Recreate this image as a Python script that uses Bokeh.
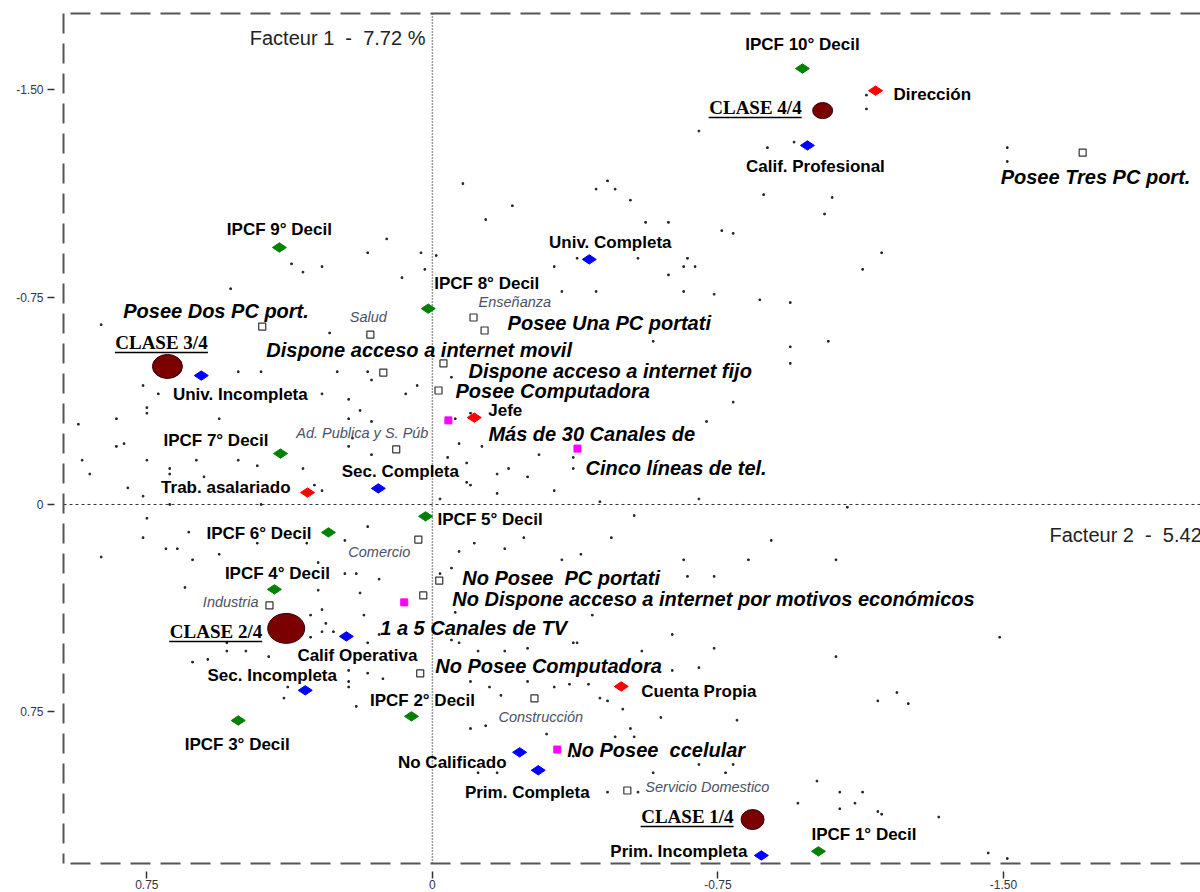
from bokeh.plotting import figure
from bokeh.models import Range1d, LinearAxis, FixedTicker, CustomJSTickFormatter, Span, ColumnDataSource
from bokeh.core.properties import value
from bokeh.embed import file_html
from bokeh.resources import INLINE
import math

# ---------------- data (factor coordinates, axes are reversed) ----------------
X_LEFT, X_RIGHT = 0.969, -2.0175
Y_BOTTOM, Y_TOP = 1.298, -1.775
axis_ticks = [-1.5, -0.75, 0, 0.75]

# IPCF deciles (green)
ipcf_labels = ["IPCF 10° Decil", "IPCF 9° Decil", "IPCF 8° Decil", "IPCF 7° Decil", "IPCF 6° Decil",
               "IPCF 5° Decil", "IPCF 4° Decil", "IPCF 3° Decil", "IPCF 2° Decil", "IPCF 1° Decil"]
ipcf_x = [-0.972, 0.402, 0.011, 0.399, 0.273, 0.018, 0.415, 0.510, 0.055, -1.014]
ipcf_y = [-1.576, -0.929, -0.708, -0.184, 0.101, 0.043, 0.307, 0.781, 0.766, 1.254]

# Education / qualification (blue)
edu_labels = ["Calif. Profesional", "Univ. Completa", "Univ. Incompleta", "Sec. Completa", "Calif Operativa",
              "Sec. Incompleta", "No Calificado", "Prim. Completa", "Prim. Incompleta"]
edu_x = [-0.985, -0.412, 0.607, 0.142, 0.226, 0.334, -0.229, -0.278, -0.864]
edu_y = [-1.298, -0.886, -0.466, -0.058, 0.477, 0.672, 0.896, 0.961, 1.269]

# Occupational category (red)
occ_labels = ["Dirección", "Jefe", "Trab. asalariado", "Cuenta Propia"]
occ_x = [-1.164, -0.110, 0.328, -0.496]
occ_y = [-1.496, -0.314, -0.043, 0.658]

# Magenta modalities
mag_labels = ["Más de 30 Canales de", "Cinco líneas de tel.", "1 a 5 Canales de TV", "No Posee \u00a0ccelular"]
mag_x = [-0.042, -0.381, 0.074, -0.328]
mag_y = [-0.304, -0.202, 0.354, 0.886]

# Open-square modalities (bold italic labels)
mod_labels = ["Posee Tres PC port.", "Posee Dos PC port.", "Posee Una PC portati",
              "Dispone acceso a internet movil", "Dispone acceso a internet fijo", "Posee Computadora",
              "No Posee \u00a0PC portati", "No Dispone acceso a internet por motivos económicos",
              "No Posee Computadora"]
mod_x = [-1.708, 0.447, -0.137, 0.129, -0.029, -0.016, -0.018, 0.024, 0.032]
mod_y = [-1.272, -0.643, -0.629, -0.477, -0.510, -0.412, 0.275, 0.329, 0.611]

# Sector modalities (small grey italic labels)
sec_labels = ["Salud", "Enseñanza", "Ad. Publica y S. Púb", "Comercio", "Industria",
              "Construcción", "Servicio Domestico"]
sec_x = [0.163, -0.108, 0.095, 0.037, 0.428, -0.268, -0.512]
sec_y = [-0.614, -0.676, -0.199, 0.127, 0.365, 0.701, 1.034]

# Classes
cls_labels = ["CLASE 4/4", "CLASE 3/4", "CLASE 2/4", "CLASE 1/4"]
cls_x = [-1.025, 0.696, 0.384, -0.841]
cls_y = [-1.424, -0.499, 0.448, 1.139]

# Axis titles
axis1_title = "Facteur 1 \u00a0-\u00a0 7.72 %"
axis2_title = "Facteur 2 \u00a0-\u00a0 5.42 %"

# Individuals (small dots)
dot_x = [0.12, 0.17, 0.37, 0.29, 0.34, 0.53,
         -0.70, -0.88, -0.95, -0.08, -0.43, -0.46, -0.48, -0.52, -0.21, -0.14, -0.56, -0.62, -0.76, -0.79,
         -0.87, 0.03, -0.01, 0.02, -0.38, -0.54, -0.67, -0.69, -0.66, -0.32, -0.62, -0.66, -0.74, -0.86,
         -0.34, -0.43, 0.08,
         -1.14, -1.14, -1.51, -1.51, -1.05, -1.03, -1.18, -1.13,
         0.87, 0.27, 0.17, 0.25, 0.17, 0.16, 0.45, 0.51, 0.76, 0.72, 0.75, 0.75, 0.22, 0.19, 0.22, 0.16,
         0.21, 0.56, 0.83, 0.93, 0.29, 0.81, 0.83, 0.22, 0.16, 0.92, 0.75, 0.62, 0.51, 0.46, 0.34, 0.90,
         0.69, 0.69, 0.60, 0.80, 0.31, 0.29, 0.76, 0.69, 0.45, 0.75, 0.64, 0.76, 0.70, 0.67, 0.56, 0.46,
         0.33, 0.23, 0.17, 0.87, 0.63, 0.30, 0.23, 0.20, 0.14, 0.65, 0.30, 0.19,
         -0.94, -0.58, -0.94, -0.94, -0.05, 0.04, 0.07, -0.79, -0.72, -0.06, -0.10, -0.07, -0.13, -0.28,
         -0.37, -0.37, -0.04, -0.09, -0.17, -0.20, -0.25, -0.09, -0.10, -0.17, -0.32, -0.02, -0.70, -0.44,
         -0.53, -0.47, -0.89, -0.24, -0.11, -0.19, -0.07, -0.34, -0.39, -0.66, -0.83, -0.67, -0.74, -0.05,
         -0.02,
         -1.04, -1.09, -1.06,
         0.32, 0.29, 0.18, 0.28, 0.29, 0.26, 0.32, 0.17, 0.14, 0.54, 0.49, 0.54, 0.43, 0.63, 0.59, 0.22,
         0.17, 0.13, 0.22, 0.22, 0.38, 0.39, 0.20,
         -0.06, -0.42, -0.63, -0.74, -0.05, -0.07, -0.12, -0.19, -0.25, -0.37, -0.38, -0.55, -0.63, -0.70,
         -0.10, -0.15, -0.18, -0.25, -0.32, -0.36, -0.41, -0.44, -0.46, -0.50, -0.60, -0.80, -0.10, -0.14,
         -0.52, -0.30, -0.48, -0.53, -0.37, -0.12, -0.17, -0.58, -0.70, -0.77, -0.79, -0.46, -0.54, -0.96,
         -1.49, -1.06, -1.22, -1.17, -1.25, -1.01, -1.07, -1.13, -1.11, -1.07, -1.17, -1.18, -1.33, -1.46,
         -1.51]
dot_y = [-0.96, -0.91, -0.87, -0.86, -0.84, -0.78,
         -1.35, -1.29, -1.31, -1.16, -1.14, -1.17, -1.14, -1.10, -1.08, -1.03, -1.02, -1.02, -0.99, -0.98,
         -1.12, -0.91, -0.90, -0.85, -0.89, -0.89, -0.89, -0.86, -0.86, -0.86, -0.83, -0.77, -0.76, -0.74,
         -0.77, -0.77, -0.82,
         -1.48, -1.43, -1.29, -1.24, -1.11, -1.05, -0.91, -0.85,
         -0.65, -0.62, -0.61, -0.48, -0.48, -0.45, -0.48, -0.48, -0.43, -0.40, -0.35, -0.33, -0.38, -0.34,
         -0.31, -0.30, -0.24, -0.31, -0.31, -0.29, -0.40, -0.22, -0.21, -0.21, -0.18, -0.16, -0.16, -0.16,
         -0.16, -0.14, -0.13, -0.11, -0.13, -0.11, -0.10, -0.06, -0.07, -0.05, -0.03, 0.00, 0.00, 0.05,
         0.10, 0.12, 0.16, 0.16, 0.18, 0.14, 0.14, 0.13, 0.08, 0.19, 0.20, 0.21, 0.25, 0.25, 0.27, 0.30,
         0.31, 0.32,
         -0.73, -0.59, -0.57, -0.51, -0.46, -0.43, -0.40, -0.37, -0.30, -0.31, -0.33, -0.22, -0.21, -0.18,
         -0.17, -0.13, -0.17, -0.15, -0.11, -0.13, -0.10, -0.08, -0.07, -0.04, -0.05, -0.02, -0.02, -0.01,
         0.04, 0.12, 0.13, 0.12, 0.14, 0.16, 0.17, 0.20, 0.18, 0.20, 0.20, 0.26, 0.26, 0.23, 0.25,
         -0.59, 0.01, 0.20,
         0.40, 0.38, 0.40, 0.43, 0.46, 0.46, 0.48, 0.50, 0.47, 0.50, 0.53, 0.53, 0.55, 0.57, 0.56, 0.60,
         0.61, 0.63, 0.64, 0.66, 0.66, 0.70, 0.73,
         0.39, 0.40, 0.47, 0.52, 0.49, 0.50, 0.53, 0.53, 0.52, 0.50, 0.50, 0.53, 0.60, 0.59, 0.64, 0.66,
         0.69, 0.64, 0.66, 0.65, 0.65, 0.70, 0.71, 0.74, 0.77, 0.78, 0.81, 0.80, 0.81, 0.83, 0.84, 0.84,
         0.91, 0.97, 0.97, 0.97, 0.94, 0.97, 0.94, 1.04, 1.04, 1.08,
         0.48, 0.55, 0.68, 0.71, 0.72, 1.00, 1.04, 1.04, 1.08, 1.10, 1.11, 1.12, 1.13, 1.26, 1.28]

# ---------------- styles (label offsets in px, alignments, sizes) ----------------
ipcf_dx = [0, 0, 6, -12, -17, 12, 3, -1, 11, -7]
ipcf_dy = [-24, -18, -25, -13, 1, 3, -16, 24, -16, -17]
ipcf_al = ["center", "center", "left", "right", "right", "left", "center", "center", "center", "left"]

edu_dx = [8, 21, 39, 22, 11, -33, -13, -11, -14]
edu_dy = [21, -17, 19, -17, 19, -15, 10, 22, -4]
edu_al = ["center", "center", "center", "center", "center", "center", "right", "center", "right"]

occ_dx = [18, 14, -17, 20]
occ_dy = [4, -7, -5, 5]
occ_al = ["left", "left", "right", "left"]

mag_dx = [40, 8, -24, 10]
mag_dy = [14, 19, 26, 0]
mag_al = ["left"] * 4

mod_dx = [-82, -139, 23, -117, 25, 17, 23, 29, 15]
mod_dy = [24, -16, -7, -23, 8, 0, -3, 4, -7]
mod_al = ["left"] * 9

sec_dx = [-2, 5, -100, -70, -11, -36, 18]
sec_dy = [-18, -15, -16, 12, -3, 19, -3]
sec_al = ["center", "left", "left", "left", "right", "left", "left"]

cls_dx = [-21, -6, -24, -19]
cls_dy = [-3, -24, 3, -3]
cls_al = ["right", "center", "right", "right"]
cls_w = [20, 30, 37, 23]
cls_h = [16, 24, 30, 20]
CLS_TEXT_W = 93

FRAME_W, FRAME_H = 1137, 850
PXX = FRAME_W / (X_LEFT - X_RIGHT)
PXY = FRAME_H / (Y_BOTTOM - Y_TOP)

SANS = "Liberation Sans"

p = figure(width=1200, height=892, output_backend="svg", toolbar_location=None,
           x_range=Range1d(X_LEFT, X_RIGHT), y_range=Range1d(Y_BOTTOM, Y_TOP),
           min_border_left=63, min_border_right=0, min_border_top=13, min_border_bottom=29)
p.grid.visible = False
p.outline_line_color = None
p.background_fill_color = "white"

fmt = CustomJSTickFormatter(code="return tick == 0 ? '0' : tick.toFixed(2);")
for ax in (p.xaxis[0], p.yaxis[0]):
    ax.ticker = FixedTicker(ticks=axis_ticks)
    ax.formatter = fmt
    ax.axis_line_color = "#555555"
    ax.axis_line_width = 2
    ax.axis_line_dash = "20 10"
    ax.major_tick_line_color = "#333333"
    ax.major_tick_line_width = 1.5
    ax.minor_tick_out = 0
    ax.minor_tick_in = 0
    ax.major_label_text_font = SANS
    ax.major_label_text_font_size = "12px"
    ax.major_label_text_color = "#333344"
p.yaxis[0].major_tick_in = -9
p.yaxis[0].major_tick_out = 16
p.yaxis[0].major_label_standoff = 4
p.xaxis[0].major_tick_in = -8
p.xaxis[0].major_tick_out = 15
p.xaxis[0].major_label_standoff = 1

top_axis = LinearAxis(ticker=FixedTicker(ticks=[]), major_tick_out=0, major_tick_in=0,
                      minor_tick_out=0, minor_tick_in=0, major_label_standoff=0,
                      major_label_text_font_size="0px", axis_line_color="#555555",
                      axis_line_width=2, axis_line_dash="20 10")
p.add_layout(top_axis, "above")

p.add_layout(Span(location=0, dimension="height", line_color="#333333", line_dash="1 2",
                  line_width=1.5, level="underlay"))
p.add_layout(Span(location=0, dimension="width", line_color="#333333", line_dash="3 3",
                  line_width=1, level="underlay"))

# individuals
p.scatter(dot_x, dot_y, marker="square", size=1.6, color="#222222")

def diamonds(xs, ys, color):
    p.scatter(xs, ys, marker="diamond", size=14, angle=math.pi / 2,
              fill_color=color, line_color=color)

def labels(xs, ys, texts, dx, dy, al, size, style, color, font=SANS):
    src = ColumnDataSource(dict(x=xs, y=ys, text=texts, dx=dx, dy=dy, al=al))
    p.text(x="x", y="y", text="text", x_offset="dx", y_offset="dy", text_align="al",
           text_baseline="middle", text_font=value(font), text_font_size=value(size),
           text_font_style=style, text_color=color, source=src)

diamonds(ipcf_x, ipcf_y, "#008000")
diamonds(edu_x, edu_y, "#0000ff")
diamonds(occ_x, occ_y, "#ff0000")
p.scatter(mag_x, mag_y, marker="square", size=7, fill_color="#ff00ff", line_color="#ff00ff")
p.scatter(mod_x, mod_y, marker="square", size=7, fill_color="white", line_color="#333333", line_width=1.2)
p.scatter(sec_x, sec_y, marker="square", size=7, fill_color="white", line_color="#333333", line_width=1.2)
p.ellipse(cls_x, cls_y, width=cls_w, height=cls_h, width_units="screen", height_units="screen",
          fill_color="#7b0000", line_color="#2a0000", line_width=1)

labels(ipcf_x, ipcf_y, ipcf_labels, ipcf_dx, ipcf_dy, ipcf_al, "17px", "bold", "#000000")
labels(edu_x, edu_y, edu_labels, edu_dx, edu_dy, edu_al, "17px", "bold", "#000000")
labels(occ_x, occ_y, occ_labels, occ_dx, occ_dy, occ_al, "17px", "bold", "#000000")
labels(mag_x, mag_y, mag_labels, mag_dx, mag_dy, mag_al, "20px", "bold italic", "#000000")
labels(mod_x, mod_y, mod_labels, mod_dx, mod_dy, mod_al, "20px", "bold italic", "#000000")
labels(sec_x, sec_y, sec_labels, sec_dx, sec_dy, sec_al, "14.5px", "italic", "#4b5263")
labels(cls_x, cls_y, cls_labels, cls_dx, cls_dy, cls_al, "19px", "bold", "#000000", font="Liberation Serif")

# underline of class labels (derived from label anchor + text width in px)
x0s, x1s, uys = [], [], []
for cx, cy, dx, dy, al in zip(cls_x, cls_y, cls_dx, cls_dy, cls_al):
    if al == "right":
        l, r = dx - CLS_TEXT_W, dx
    else:
        l, r = dx - CLS_TEXT_W / 2, dx + CLS_TEXT_W / 2
    x0s.append(cx - l / PXX)
    x1s.append(cx - r / PXX)
    uys.append(cy + (dy + 10) / PXY)
p.segment(x0=x0s, y0=uys, x1=x1s, y1=uys, line_color="#000000", line_width=1.5)

# axis titles
p.text(x=[0], y=[Y_TOP], text=[axis1_title], x_offset=-7, y_offset=24,
       text_align="right", text_baseline="middle", text_font=value(SANS),
       text_font_size=value("20px"), text_color="#222222")
p.text(x=[X_RIGHT], y=[0], text=[axis2_title], x_offset=-151, y_offset=31,
       text_align="left", text_baseline="middle", text_font=value(SANS),
       text_font_size=value("20px"), text_color="#222222")

open("out.html", "w").write(file_html(p, INLINE))
